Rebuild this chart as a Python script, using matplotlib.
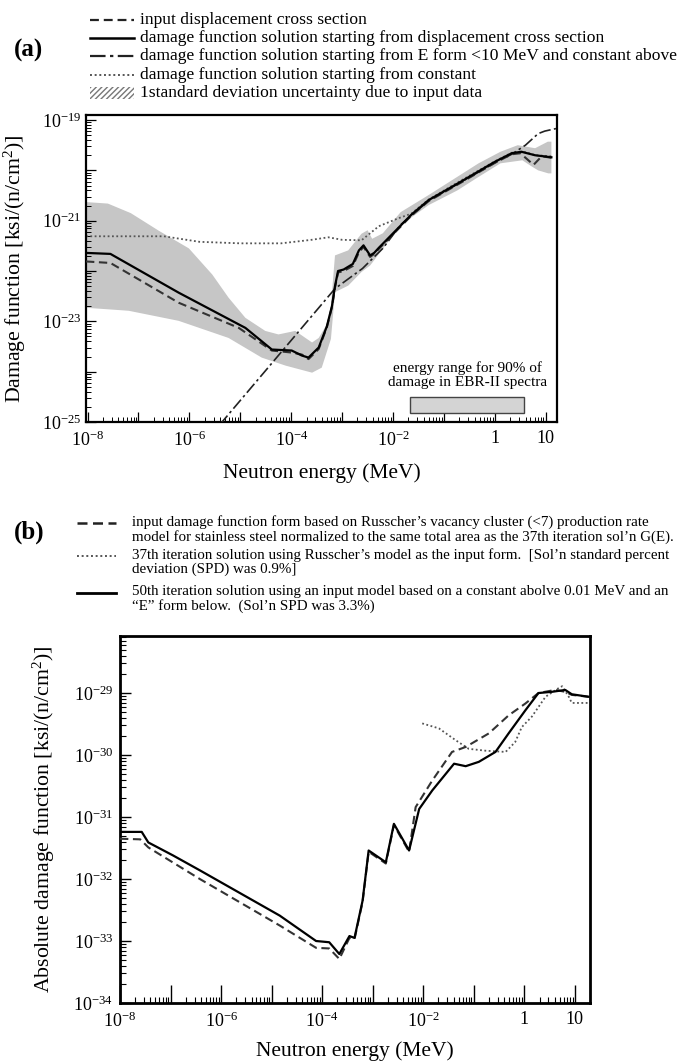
import numpy as np
import matplotlib as mpl
import matplotlib.pyplot as plt
from matplotlib.lines import Line2D
from matplotlib.patches import Rectangle
from matplotlib.ticker import FixedLocator, FixedFormatter, LogLocator, NullFormatter

mpl.rcParams.update({
    "font.family": ["Liberation Serif", "DejaVu Serif"],
    "mathtext.fontset": "custom",
    "mathtext.rm": "Liberation Serif",
    "mathtext.it": "Liberation Serif:italic",
    "mathtext.bf": "Liberation Serif:bold",
})

####### panel (a) data : log10(E / MeV), log10(damage) #######
a_solid_logE = [-8.03, -7.55, -6.21, -4.9, -4.38, -3.99, -3.79, -3.66, -3.46, -3.3, -3.2, -3.14,
                -3.08, -2.97, -2.79, -2.67, -2.58, -2.45, -2.37, -2.28, -1.64, -1.3, -0.66, 0.0,
                0.33, 0.52, 0.79, 1.11]
a_solid_logD = [-21.64, -21.66, -22.43, -23.13, -23.56, -23.58, -23.68, -23.72, -23.52, -23.1, -22.7, -22.3,
                -22.0, -21.97, -21.86, -21.59, -21.49, -21.69, -21.64, -21.54, -20.88, -20.59, -20.22, -19.83,
                -19.66, -19.63, -19.7, -19.74]

a_input_logE = [-8.03, -7.55, -6.21, -5.03, -4.38, -3.99, -3.79, -3.66, -3.46, -3.3, -3.2, -3.14,
                -3.08, -2.97, -2.79, -2.67, -2.58, -2.45, -2.37, -2.28, -1.64, -1.3, -0.66, 0.0,
                0.33, 0.5, 0.76, 0.92, 1.11]
a_input_logD = [-21.81, -21.84, -22.63, -23.13, -23.58, -23.62, -23.66, -23.75, -23.55, -23.12, -22.72, -22.33,
                -22.03, -22.0, -21.9, -21.63, -21.52, -21.72, -21.66, -21.56, -20.9, -20.61, -20.24, -19.85,
                -19.68, -19.66, -19.89, -19.72, -19.75]

a_eform_logE = [-5.4, -3.14, -2.6, -2.2, -1.85, -1.64, -1.3, -0.66, 0.0, 0.33, 0.6, 0.85, 0.98, 1.2]
a_eform_logD = [-25.05, -22.35, -21.95, -21.55, -21.08, -20.9, -20.6, -20.23, -19.85, -19.68, -19.5, -19.27,
                -19.22, -19.17]

a_const_logE = [-8.03, -6.5, -5.8, -5.0, -4.2, -3.6, -3.27, -3.0, -2.62, -2.28, -1.89, -1.64, -1.3,
                -0.66, 0.0, 0.33, 0.6, 0.8, 1.11]
a_const_logD = [-21.31, -21.31, -21.42, -21.45, -21.45, -21.38, -21.33, -21.38, -21.39, -21.11, -20.95, -20.86,
                -20.58, -20.2, -19.82, -19.65, -19.64, -19.7, -19.72]

a_band_hi_logE = [-8.03, -7.6, -7.15, -6.6, -6.01, -5.55, -5.23, -4.9, -4.51, -4.25, -3.92, -3.72, -3.59,
                  -3.46, -3.3, -3.22, -3.14, -2.88, -2.62, -2.5, -2.41, -2.2, -1.85, -1.3, -0.74, -0.32,
                  0.11, 0.45, 0.79, 1.04, 1.11]
a_band_hi_logD = [-20.63, -20.66, -20.85, -21.2, -21.55, -22.07, -22.53, -22.93, -23.19, -23.26, -23.19, -23.33,
                  -23.42, -23.33, -23.06, -22.69, -21.69, -21.59, -21.26, -21.19, -21.36, -21.25, -20.83,
                  -20.49, -20.13, -19.86, -19.63, -19.5, -19.56, -19.43, -19.43]
a_band_lo_logE = [-8.03, -7.19, -6.21, -5.23, -4.58, -4.11, -3.59, -3.4, -3.22, -3.14, -2.88, -2.62, -2.45,
                  -2.2, -1.85, -1.3, -0.74, -0.32, 0.11, 0.54, 0.72, 0.85, 1.05, 1.11]
a_band_lo_logD = [-22.73, -22.79, -22.99, -23.33, -23.72, -23.88, -24.02, -23.92, -23.35, -22.42, -22.29, -22.02,
                  -21.89, -21.56, -21.09, -20.69, -20.4, -20.13, -19.86, -19.8, -19.92, -20.0, -20.06, -20.06]

# energy range for 90% of damage (EBR-II)
ebr_logE = [-1.66, 0.57]
ebr_logD = [-24.82, -24.5]

####### panel (b) data #######
b_solid_logE = [-8.0, -7.57, -7.44, -6.95, -6.42, -4.84, -4.12, -3.86, -3.66, -3.46, -3.36, -3.2, -3.08,
                -2.74, -2.58, -2.28, -2.08, -1.82, -1.39, -1.16, -0.9, -0.57, -0.31, 0.02, 0.28, 0.55,
                0.81, 0.94, 1.27]
b_solid_logD = [-31.24, -31.24, -31.41, -31.62, -31.86, -32.59, -33.0, -33.02, -33.21, -32.92, -32.95, -32.35,
                -31.54, -31.73, -31.11, -31.54, -30.87, -30.57, -30.14, -30.18, -30.11, -29.95, -29.65,
                -29.28, -29.0, -28.98, -28.95, -29.02, -29.06]

b_input_logE = [-8.0, -7.6, -7.44, -6.42, -4.84, -4.12, -3.86, -3.66, -3.46, -3.36, -3.2, -3.08, -2.74,
                -2.58, -2.28, -2.15, -1.82, -1.43, -1.16, -0.7, -0.31, 0.02, 0.28, 0.61, 0.81, 0.94, 1.27]
b_input_logD = [-31.35, -31.36, -31.49, -32.0, -32.75, -33.11, -33.12, -33.29, -32.95, -32.97, -32.37, -31.56,
                -31.75, -31.13, -31.56, -30.84, -30.41, -29.95, -29.87, -29.65, -29.36, -29.17, -29.0,
                -28.95, -28.98, -29.03, -29.06]

b_iter37_logE = [-2.02, -1.69, -1.36, -1.1, -0.77, -0.37, -0.18, -0.05, 0.15, 0.42, 0.68, 0.75, 0.88, 0.94, 1.27]
b_iter37_logD = [-29.49, -29.57, -29.76, -29.9, -29.93, -29.95, -29.79, -29.55, -29.38, -29.06, -28.92,
                 -28.89, -29.06, -29.16, -29.16]

x_ticks = [1e-8, 1e-7, 1e-6, 1e-5, 1e-4, 1e-3, 1e-2, 1e-1, 1, 10]
x_labels = ["$10^{-8}$", "", "$10^{-6}$", "", "$10^{-4}$", "", "$10^{-2}$", "", "1", "10"]
a_y_ticks = [1e-25, 1e-24, 1e-23, 1e-22, 1e-21, 1e-20, 1e-19]
a_y_labels = ["$10^{-25}$", "", "$10^{-23}$", "", "$10^{-21}$", "", "$10^{-19}$"]
b_y_ticks = [1e-34, 1e-33, 1e-32, 1e-31, 1e-30, 1e-29]
b_y_labels = ["$10^{-34}$", "$10^{-33}$", "$10^{-32}$", "$10^{-31}$", "$10^{-30}$", "$10^{-29}$"]

a_legend = ["input displacement cross section",
            "damage function solution starting from displacement cross section",
            "damage function solution starting from E form <10 MeV and constant above",
            "damage function solution starting from constant",
            "1standard deviation uncertainty due to input data"]
b_legend = ["input damage function form based on Russcher\u2019s vacancy cluster (<7) production rate\n"
            "model for stainless steel normalized to the same total area as the 37th iteration sol\u2019n G(E).",
            "37th iteration solution using Russcher\u2019s model as the input form.  [Sol\u2019n standard percent\n"
            "deviation (SPD) was 0.9%]",
            "50th iteration solution using an input model based on a constant abolve 0.01 MeV and an\n"
            "\u201cE\u201d form below.  (Sol\u2019n SPD was 3.3%)"]

W, H = 684, 1063
fig = plt.figure(figsize=(W / 100, H / 100), dpi=100)


def fx(px):
    return px / W


def fy(px):
    return 1 - px / H


def p(v):
    return 10 ** np.asarray(v)


dash = (0, (4, 2.2))
dashdot = (0, (7, 2, 1.5, 2))
dots = (0, (1, 1.4))

# ---------------- (a) ----------------
ax = fig.add_axes([fx(86), fy(422), fx(557) - fx(86), fy(115) - fy(422)])
ax.fill(np.concatenate([p(a_band_hi_logE), p(a_band_lo_logE)[::-1]]),
        np.concatenate([p(a_band_hi_logD), p(a_band_lo_logD)[::-1]]),
        facecolor="#c6c6c6", edgecolor="none", zorder=1)
ax.plot(p(a_const_logE), p(a_const_logD), color="#555555", lw=1.3, ls=dots, zorder=2)
ax.plot(p(a_eform_logE), p(a_eform_logD), color="#222222", lw=1.2, ls=dashdot, zorder=3)
ax.plot(p(a_input_logE), p(a_input_logD), color="#333333", lw=1.5, ls=dash, zorder=3)
ax.plot(p(a_solid_logE), p(a_solid_logD), color="black", lw=1.6, zorder=4)
ax.add_patch(Rectangle((p(ebr_logE[0]), p(ebr_logD[0])), p(ebr_logE[1]) - p(ebr_logE[0]),
                       p(ebr_logD[1]) - p(ebr_logD[0]), facecolor="#d4d4d4", edgecolor="#444444",
                       lw=1.0, zorder=2))
ax.text(p(np.mean(ebr_logE)), p(-24.07), "energy range for 90% of\ndamage in EBR-II spectra",
        ha="center", va="center", fontsize=11, linespacing=1.15)
ax.set_xscale("log")
ax.set_yscale("log")
ax.set_xlim(10 ** -8.03, 10 ** 1.22)
ax.set_ylim(1e-25, 10 ** -18.9)
ax.xaxis.set_major_locator(FixedLocator(x_ticks))
ax.xaxis.set_major_formatter(FixedFormatter(x_labels))
ax.yaxis.set_major_locator(FixedLocator(a_y_ticks))
ax.yaxis.set_major_formatter(FixedFormatter(a_y_labels))
for axis in (ax.xaxis, ax.yaxis):
    axis.set_minor_locator(LogLocator(base=10, subs=np.arange(2, 10), numticks=40))
    axis.set_minor_formatter(NullFormatter())
ax.tick_params(which="major", direction="in", length=7, width=0.9, labelsize=13)
ax.tick_params(axis="x", which="major", pad=6)
ax.tick_params(axis="y", which="major", pad=3.5)
ax.tick_params(which="minor", direction="in", length=3.5, width=0.7)
for s in ax.spines.values():
    s.set_linewidth(1.6)
ax.set_xlabel("Neutron energy (MeV)", fontsize=15.5)
ax.set_ylabel("Damage function [ksi/(n/cm$^2$)]", fontsize=15.7)
ax.xaxis.set_label_coords(0.5, -0.135)
ax.yaxis.set_label_coords(-0.123, 0.5)

# legend (a), drawn by hand above the axes
fig.text(fx(14), fy(50), "(a)", fontsize=18, fontweight="bold", va="center")
a_styles = [dict(color="#222222", lw=1.6, ls=dash), dict(color="black", lw=1.8),
            dict(color="#222222", lw=1.6, ls=dashdot), dict(color="#555555", lw=1.4, ls=dots)]
for i, lab in enumerate(a_legend):
    y = 20 + 18.2 * i
    if i < 4:
        fig.add_artist(Line2D([fx(90), fx(134)], [fy(y), fy(y)], transform=fig.transFigure, **a_styles[i]))
    else:
        fig.add_artist(Rectangle((fx(90), fy(y + 6)), fx(44), 12 / H, transform=fig.transFigure,
                                 facecolor="white", edgecolor="#777777", hatch="//////", lw=0))
    fig.text(fx(140), fy(y), lab, fontsize=12.6, va="center", ha="left")

# ---------------- (b) ----------------
bx = fig.add_axes([fx(120), fy(1003), fx(590) - fx(120), fy(636) - fy(1003)])
bx.plot(p(b_iter37_logE), p(b_iter37_logD), color="#555555", lw=1.3, ls=dots, zorder=2)
bx.plot(p(b_input_logE), p(b_input_logD), color="#333333", lw=1.5, ls=dash, zorder=3)
bx.plot(p(b_solid_logE), p(b_solid_logD), color="black", lw=1.6, zorder=4)
bx.set_xscale("log")
bx.set_yscale("log")
bx.set_xlim(1e-8, 10 ** 1.3)
bx.set_ylim(1e-34, 10 ** -28.08)
bx.xaxis.set_major_locator(FixedLocator(x_ticks))
bx.xaxis.set_major_formatter(FixedFormatter(x_labels))
bx.yaxis.set_major_locator(FixedLocator(b_y_ticks))
bx.yaxis.set_major_formatter(FixedFormatter(b_y_labels))
for axis in (bx.xaxis, bx.yaxis):
    axis.set_minor_locator(LogLocator(base=10, subs=np.arange(2, 10), numticks=40))
    axis.set_minor_formatter(NullFormatter())
bx.tick_params(which="major", direction="in", length=8, width=1.0, labelsize=13)
bx.tick_params(axis="x", which="major", length=13, pad=6)
bx.tick_params(axis="y", which="major", pad=5)
bx.tick_params(which="minor", direction="in", length=4, width=0.8)
for s in bx.spines.values():
    s.set_linewidth(2.0)
bx.set_xlabel("Neutron energy (MeV)", fontsize=15.5)
bx.set_ylabel("Absolute damage function [ksi/(n/cm$^2$)]", fontsize=15.7)
bx.xaxis.set_label_coords(0.5, -0.105)
bx.yaxis.set_label_coords(-0.134, 0.5)

# legend (b)
fig.text(fx(14), fy(532), "(b)", fontsize=18, fontweight="bold", va="center")
b_styles = [dict(color="#222222", lw=1.8, ls=dash), dict(color="#555555", lw=1.4, ls=dots),
            dict(color="black", lw=2.0)]
b_rows = [523, 556, 593]
for i, lab in enumerate(b_legend):
    y = b_rows[i]
    fig.add_artist(Line2D([fx(77), fx(116)], [fy(y), fy(y)], transform=fig.transFigure, **b_styles[i]))
    fig.text(fx(132), fy(y - 8), lab, fontsize=10.8, va="top", ha="left", linespacing=1.08)

plt.savefig("out.png", dpi=100)
